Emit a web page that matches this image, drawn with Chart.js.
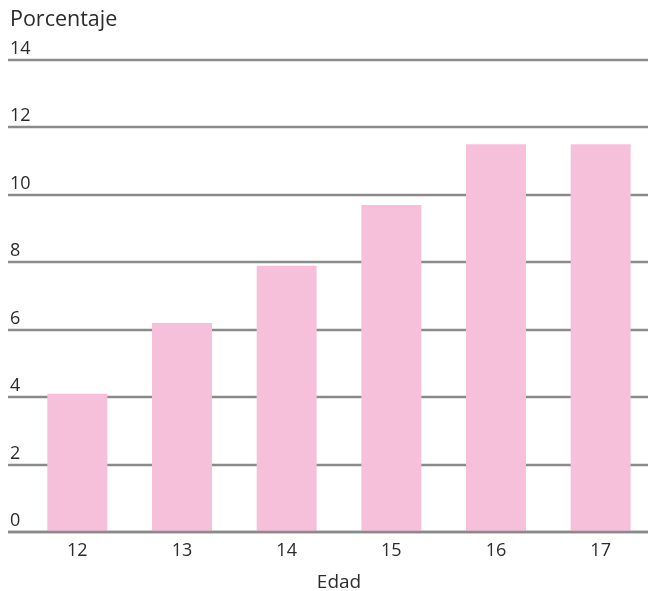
<!DOCTYPE html>
<html><head><meta charset="utf-8">
<script src="https://cdn.jsdelivr.net/npm/chart.js@4/dist/chart.umd.min.js"></script>
<style>html,body{margin:0;padding:0;background:#fff;overflow:hidden}#wrap{width:648px;height:591px;overflow:hidden}</style>
</head><body><div id="wrap"><canvas id="c" width="653" height="591"></canvas></div>
<script>
const categories = ['12','13','14','15','16','17'];
const values = [4.1, 6.2, 7.9, 9.7, 11.5, 11.5];
const yTicks = [0,2,4,6,8,10,12,14];
const yTitle = 'Porcentaje';
const xTitle = 'Edad';

const FONT = "'Open Sans', 'Noto Sans', sans-serif";

const gridPlugin = {
  id: 'gridPlugin',
  beforeDatasetsDraw(chart) {
    const ctx = chart.ctx, y = chart.scales.y;
    ctx.save();
    ctx.strokeStyle = '#8a8a8a';
    ctx.lineWidth = 2.5;
    ctx.fillStyle = '#2b2b2b';
    ctx.font = '18px ' + FONT;
    ctx.textAlign = 'left';
    ctx.textBaseline = 'alphabetic';
    yTicks.forEach(v => {
      const py = Math.round(y.getPixelForValue(v));
      ctx.beginPath();
      ctx.moveTo(8, py);
      ctx.lineTo(chart.width, py);
      ctx.stroke();
      ctx.fillText(String(v), 10, py - 6);
    });
    ctx.font = '21.5px ' + FONT;
    ctx.fillText(yTitle, 10, 26);
    ctx.restore();
  },
  afterDatasetsDraw(chart) {
    const ctx = chart.ctx, y = chart.scales.y;
    const py = Math.round(y.getPixelForValue(0));
    ctx.save();
    ctx.strokeStyle = '#8a8a8a';
    ctx.lineWidth = 2.5;
    ctx.beginPath(); ctx.moveTo(8, py); ctx.lineTo(chart.width, py); ctx.stroke();
    ctx.restore();
  }
};

new Chart(document.getElementById('c'), {
  type: 'bar',
  data: { labels: categories, datasets: [{ data: values, backgroundColor: '#f7c0da', barPercentage: 0.573, categoryPercentage: 1 }] },
  options: {
    responsive: false,
    animation: false,
    layout: { padding: { left: 25, right: 0, top: 60, bottom: 0 } },
    plugins: { legend: { display: false }, tooltip: { enabled: false } },
    scales: {
      y: { display: false, min: 0, max: 14 },
      x: {
        afterFit(scale) { scale.height = 59; },
        grid: { display: false, drawTicks: false, tickLength: 0 }, border: { display: false },
        ticks: { color: '#2b2b2b', font: { family: FONT, size: 18 }, padding: 8 },
        title: { display: true, text: xTitle, color: '#2b2b2b', font: { family: FONT, size: 19 }, padding: { top: 8, bottom: -3 } }
      }
    }
  },
  plugins: [gridPlugin]
});
</script></body></html>
